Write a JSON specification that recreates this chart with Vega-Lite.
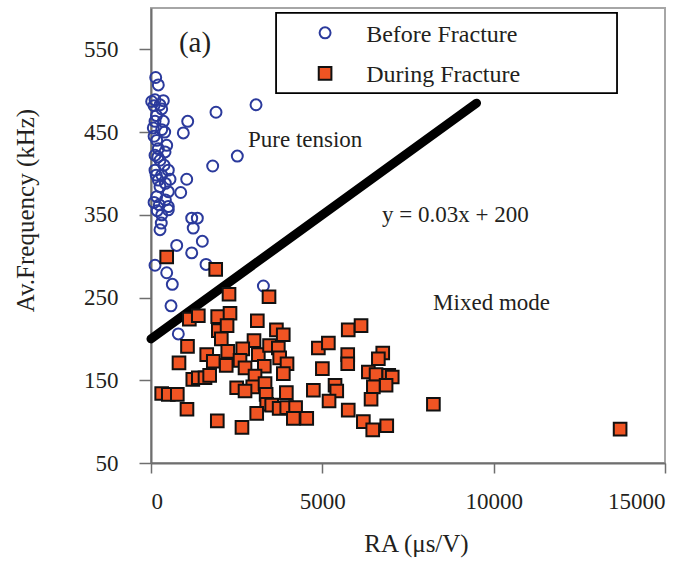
{
  "$schema": "https://vega.github.io/schema/vega-lite/v6.json",
  "width": 514,
  "height": 455,
  "autosize": {"type": "none"},
  "padding": {"left": 151, "top": 8, "right": 34, "bottom": 104},
  "background": "white",
  "config": {
    "view": {"stroke": "#a6a6a6", "strokeWidth": 2},
    "font": "Liberation Serif",
    "axis": {
      "grid": false,
      "domainColor": "#6e6e6e",
      "domainWidth": 2,
      "tickColor": "#6e6e6e",
      "tickWidth": 1.5,
      "labelFont": "Liberation Serif",
      "labelFontSize": 23,
      "labelColor": "#231f20",
      "titleFont": "Liberation Serif",
      "titleFontSize": 25,
      "titleFontWeight": "normal",
      "titleColor": "#231f20"
    }
  },
  "datasets": {
    "events": [
      {"phase": "Before Fracture", "ra": 137, "freq": 516},
      {"phase": "Before Fracture", "ra": 213, "freq": 507},
      {"phase": "Before Fracture", "ra": 117, "freq": 489},
      {"phase": "Before Fracture", "ra": 360, "freq": 488},
      {"phase": "Before Fracture", "ra": 263, "freq": 483},
      {"phase": "Before Fracture", "ra": 20, "freq": 487},
      {"phase": "Before Fracture", "ra": 88, "freq": 482},
      {"phase": "Before Fracture", "ra": 312, "freq": 478},
      {"phase": "Before Fracture", "ra": 160, "freq": 470},
      {"phase": "Before Fracture", "ra": 1897, "freq": 474},
      {"phase": "Before Fracture", "ra": 3065, "freq": 483},
      {"phase": "Before Fracture", "ra": 1071, "freq": 463},
      {"phase": "Before Fracture", "ra": 943, "freq": 449},
      {"phase": "Before Fracture", "ra": 117, "freq": 463},
      {"phase": "Before Fracture", "ra": 360, "freq": 463},
      {"phase": "Before Fracture", "ra": 67, "freq": 455},
      {"phase": "Before Fracture", "ra": 312, "freq": 453},
      {"phase": "Before Fracture", "ra": 400, "freq": 450},
      {"phase": "Before Fracture", "ra": 90, "freq": 445},
      {"phase": "Before Fracture", "ra": 166, "freq": 440},
      {"phase": "Before Fracture", "ra": 458, "freq": 434},
      {"phase": "Before Fracture", "ra": 213, "freq": 430},
      {"phase": "Before Fracture", "ra": 2519, "freq": 421},
      {"phase": "Before Fracture", "ra": 117, "freq": 422},
      {"phase": "Before Fracture", "ra": 409, "freq": 426},
      {"phase": "Before Fracture", "ra": 200, "freq": 420},
      {"phase": "Before Fracture", "ra": 380, "freq": 410},
      {"phase": "Before Fracture", "ra": 1800, "freq": 409},
      {"phase": "Before Fracture", "ra": 263, "freq": 416},
      {"phase": "Before Fracture", "ra": 117, "freq": 404},
      {"phase": "Before Fracture", "ra": 505, "freq": 404},
      {"phase": "Before Fracture", "ra": 150, "freq": 398},
      {"phase": "Before Fracture", "ra": 312, "freq": 398},
      {"phase": "Before Fracture", "ra": 1042, "freq": 393},
      {"phase": "Before Fracture", "ra": 555, "freq": 393},
      {"phase": "Before Fracture", "ra": 213, "freq": 392},
      {"phase": "Before Fracture", "ra": 420, "freq": 388},
      {"phase": "Before Fracture", "ra": 263, "freq": 384},
      {"phase": "Before Fracture", "ra": 867, "freq": 377},
      {"phase": "Before Fracture", "ra": 505, "freq": 378},
      {"phase": "Before Fracture", "ra": 166, "freq": 372},
      {"phase": "Before Fracture", "ra": 420, "freq": 368},
      {"phase": "Before Fracture", "ra": 90, "freq": 365},
      {"phase": "Before Fracture", "ra": 242, "freq": 362},
      {"phase": "Before Fracture", "ra": 505, "freq": 360},
      {"phase": "Before Fracture", "ra": 180, "freq": 355},
      {"phase": "Before Fracture", "ra": 505, "freq": 356},
      {"phase": "Before Fracture", "ra": 312, "freq": 350},
      {"phase": "Before Fracture", "ra": 1188, "freq": 346},
      {"phase": "Before Fracture", "ra": 1352, "freq": 346},
      {"phase": "Before Fracture", "ra": 300, "freq": 340},
      {"phase": "Before Fracture", "ra": 1232, "freq": 334},
      {"phase": "Before Fracture", "ra": 263, "freq": 332},
      {"phase": "Before Fracture", "ra": 750, "freq": 313},
      {"phase": "Before Fracture", "ra": 1498, "freq": 318},
      {"phase": "Before Fracture", "ra": 1188, "freq": 304},
      {"phase": "Before Fracture", "ra": 117, "freq": 289},
      {"phase": "Before Fracture", "ra": 458, "freq": 280},
      {"phase": "Before Fracture", "ra": 1606, "freq": 290},
      {"phase": "Before Fracture", "ra": 622, "freq": 266},
      {"phase": "Before Fracture", "ra": 3280, "freq": 264},
      {"phase": "Before Fracture", "ra": 584, "freq": 240},
      {"phase": "Before Fracture", "ra": 797, "freq": 206},
      {"phase": "During Fracture", "ra": 458, "freq": 299},
      {"phase": "During Fracture", "ra": 1888, "freq": 284},
      {"phase": "During Fracture", "ra": 2277, "freq": 254},
      {"phase": "During Fracture", "ra": 3444, "freq": 251},
      {"phase": "During Fracture", "ra": 1119, "freq": 224},
      {"phase": "During Fracture", "ra": 1381, "freq": 228},
      {"phase": "During Fracture", "ra": 1946, "freq": 227},
      {"phase": "During Fracture", "ra": 2306, "freq": 231},
      {"phase": "During Fracture", "ra": 3103, "freq": 222},
      {"phase": "During Fracture", "ra": 1965, "freq": 210},
      {"phase": "During Fracture", "ra": 2220, "freq": 216},
      {"phase": "During Fracture", "ra": 2052, "freq": 200},
      {"phase": "During Fracture", "ra": 3660, "freq": 211},
      {"phase": "During Fracture", "ra": 3860, "freq": 205},
      {"phase": "During Fracture", "ra": 1065, "freq": 191},
      {"phase": "During Fracture", "ra": 3006, "freq": 198},
      {"phase": "During Fracture", "ra": 2240, "freq": 185},
      {"phase": "During Fracture", "ra": 1626, "freq": 181},
      {"phase": "During Fracture", "ra": 817, "freq": 171},
      {"phase": "During Fracture", "ra": 1818, "freq": 173},
      {"phase": "During Fracture", "ra": 2195, "freq": 168},
      {"phase": "During Fracture", "ra": 2677, "freq": 188},
      {"phase": "During Fracture", "ra": 2598, "freq": 174},
      {"phase": "During Fracture", "ra": 2744, "freq": 165},
      {"phase": "During Fracture", "ra": 3132, "freq": 181},
      {"phase": "During Fracture", "ra": 3460, "freq": 192},
      {"phase": "During Fracture", "ra": 3307, "freq": 167},
      {"phase": "During Fracture", "ra": 3716, "freq": 189},
      {"phase": "During Fracture", "ra": 3755, "freq": 177},
      {"phase": "During Fracture", "ra": 3970, "freq": 170},
      {"phase": "During Fracture", "ra": 3862, "freq": 158},
      {"phase": "During Fracture", "ra": 1220, "freq": 151},
      {"phase": "During Fracture", "ra": 1381, "freq": 153},
      {"phase": "During Fracture", "ra": 1576, "freq": 153},
      {"phase": "During Fracture", "ra": 1712, "freq": 156},
      {"phase": "During Fracture", "ra": 3036, "freq": 155},
      {"phase": "During Fracture", "ra": 2500, "freq": 141},
      {"phase": "During Fracture", "ra": 2970, "freq": 142},
      {"phase": "During Fracture", "ra": 3328, "freq": 146},
      {"phase": "During Fracture", "ra": 2744, "freq": 137},
      {"phase": "During Fracture", "ra": 3950, "freq": 135},
      {"phase": "During Fracture", "ra": 312, "freq": 134},
      {"phase": "During Fracture", "ra": 505, "freq": 133},
      {"phase": "During Fracture", "ra": 768, "freq": 133},
      {"phase": "During Fracture", "ra": 3360, "freq": 133},
      {"phase": "During Fracture", "ra": 3376, "freq": 121},
      {"phase": "During Fracture", "ra": 3522, "freq": 120},
      {"phase": "During Fracture", "ra": 3740, "freq": 116},
      {"phase": "During Fracture", "ra": 3961, "freq": 117},
      {"phase": "During Fracture", "ra": 4220, "freq": 117},
      {"phase": "During Fracture", "ra": 1050, "freq": 115},
      {"phase": "During Fracture", "ra": 3085, "freq": 110},
      {"phase": "During Fracture", "ra": 4154, "freq": 104},
      {"phase": "During Fracture", "ra": 4545, "freq": 104},
      {"phase": "During Fracture", "ra": 1935, "freq": 101},
      {"phase": "During Fracture", "ra": 2655, "freq": 93},
      {"phase": "During Fracture", "ra": 4884, "freq": 189},
      {"phase": "During Fracture", "ra": 5176, "freq": 195},
      {"phase": "During Fracture", "ra": 5001, "freq": 164},
      {"phase": "During Fracture", "ra": 5756, "freq": 211},
      {"phase": "During Fracture", "ra": 6130, "freq": 216},
      {"phase": "During Fracture", "ra": 5741, "freq": 181},
      {"phase": "During Fracture", "ra": 5741, "freq": 170},
      {"phase": "During Fracture", "ra": 6763, "freq": 183},
      {"phase": "During Fracture", "ra": 6635, "freq": 176},
      {"phase": "During Fracture", "ra": 6343, "freq": 160},
      {"phase": "During Fracture", "ra": 6568, "freq": 157},
      {"phase": "During Fracture", "ra": 6938, "freq": 156},
      {"phase": "During Fracture", "ra": 7040, "freq": 154},
      {"phase": "During Fracture", "ra": 6860, "freq": 144},
      {"phase": "During Fracture", "ra": 6489, "freq": 142},
      {"phase": "During Fracture", "ra": 6422, "freq": 127},
      {"phase": "During Fracture", "ra": 4738, "freq": 138},
      {"phase": "During Fracture", "ra": 5371, "freq": 144},
      {"phase": "During Fracture", "ra": 5421, "freq": 137},
      {"phase": "During Fracture", "ra": 5196, "freq": 125},
      {"phase": "During Fracture", "ra": 5756, "freq": 114},
      {"phase": "During Fracture", "ra": 6197, "freq": 100},
      {"phase": "During Fracture", "ra": 6471, "freq": 90},
      {"phase": "During Fracture", "ra": 6880, "freq": 95},
      {"phase": "During Fracture", "ra": 8241, "freq": 121},
      {"phase": "During Fracture", "ra": 13690, "freq": 91}
    ],
    "boundary": [
      {"ra": 0, "freq": 200},
      {"ra": 9500, "freq": 485}
    ],
    "notes": [
      {"ra": 1284, "freq": 558, "text": "(a)", "kind": "panel"},
      {"ra": 2831, "freq": 440, "text": "Pure tension", "kind": "region"},
      {"ra": 6743, "freq": 350, "text": "y = 0.03x + 200", "kind": "region"},
      {"ra": 8232, "freq": 243, "text": "Mixed mode", "kind": "region"}
    ],
    "key": [
      {"phase": "Before Fracture"},
      {"phase": "During Fracture"}
    ]
  },
  "layer": [
    {
      "data": {"name": "boundary"},
      "mark": {"type": "line", "color": "black", "strokeWidth": 9, "strokeCap": "round"},
      "encoding": {
        "x": {"field": "ra", "type": "quantitative"},
        "y": {"field": "freq", "type": "quantitative"}
      }
    },
    {
      "data": {"name": "events"},
      "mark": {"type": "point", "filled": false, "strokeWidth": 2, "opacity": 1},
      "encoding": {
        "x": {
          "field": "ra",
          "type": "quantitative",
          "scale": {"domain": [0, 15000], "nice": false},
          "axis": {
            "title": "RA (μs/V)",
            "values": [0, 5000, 10000, 15000],
            "format": "d",
            "tickSize": 10,
            "labelPadding": 17,
            "titleX": 265,
            "titleY": 80,
            "titleBaseline": "middle"
          }
        },
        "y": {
          "field": "freq",
          "type": "quantitative",
          "scale": {"domain": [50, 600], "nice": false, "zero": false},
          "axis": {
            "title": "Av.Frequency (kHz)",
            "values": [50, 150, 250, 350, 450, 550],
            "format": "d",
            "tickSize": 12,
            "labelPadding": 21,
            "titleX": -126,
            "titleY": 202,
            "titleAngle": -90,
            "titleBaseline": "middle",
            "titleAlign": "center"
          }
        },
        "shape": {
          "field": "phase",
          "type": "nominal",
          "scale": {"domain": ["Before Fracture", "During Fracture"], "range": ["circle", "square"]},
          "legend": null
        },
        "fill": {
          "field": "phase",
          "type": "nominal",
          "scale": {"domain": ["Before Fracture", "During Fracture"], "range": ["rgba(255,255,255,0)", "#f05423"]},
          "legend": null
        },
        "stroke": {
          "field": "phase",
          "type": "nominal",
          "scale": {"domain": ["Before Fracture", "During Fracture"], "range": ["#2b3a9c", "#111111"]},
          "legend": null
        },
        "size": {
          "field": "phase",
          "type": "nominal",
          "scale": {"domain": ["Before Fracture", "During Fracture"], "range": [120, 160]},
          "legend": null
        }
      }
    },
    {
      "data": {"name": "notes"},
      "transform": [{"filter": "datum.kind === 'panel'"}],
      "mark": {"type": "text", "font": "Liberation Serif", "fontSize": 29, "color": "#231f20", "align": "center", "baseline": "middle"},
      "encoding": {
        "x": {"field": "ra", "type": "quantitative"},
        "y": {"field": "freq", "type": "quantitative"},
        "text": {"field": "text"}
      }
    },
    {
      "data": {"name": "notes"},
      "transform": [{"filter": "datum.kind === 'region'"}],
      "mark": {"type": "text", "font": "Liberation Serif", "fontSize": 23, "color": "#231f20", "align": "left", "baseline": "middle"},
      "encoding": {
        "x": {"field": "ra", "type": "quantitative"},
        "y": {"field": "freq", "type": "quantitative"},
        "text": {"field": "text"}
      }
    },
    {
      "description": "Key frame in the upper right of the plot",
      "data": {"name": "key"},
      "transform": [{"filter": "datum.phase === 'Before Fracture'"}],
      "mark": {"type": "rect", "fill": "white", "stroke": "black", "strokeWidth": 1.8},
      "encoding": {
        "x": {"datum": 3650, "type": "quantitative"},
        "x2": {"datum": 13600},
        "y": {"datum": 594, "type": "quantitative"},
        "y2": {"datum": 497}
      }
    },
    {
      "data": {"name": "key"},
      "transform": [{"filter": "datum.phase === 'Before Fracture'"}],
      "mark": {"type": "point", "shape": "circle", "filled": false, "stroke": "#2b3a9c", "strokeWidth": 2, "size": 120, "opacity": 1},
      "encoding": {
        "x": {"datum": 5080, "type": "quantitative"},
        "y": {"datum": 570, "type": "quantitative"}
      }
    },
    {
      "data": {"name": "key"},
      "transform": [{"filter": "datum.phase === 'During Fracture'"}],
      "mark": {"type": "point", "shape": "square", "filled": true, "fill": "#f05423", "stroke": "#111111", "strokeWidth": 2, "size": 160, "opacity": 1},
      "encoding": {
        "x": {"datum": 5080, "type": "quantitative"},
        "y": {"datum": 521, "type": "quantitative"}
      }
    },
    {
      "data": {"name": "key"},
      "transform": [{"filter": "datum.phase === 'Before Fracture'"}],
      "mark": {"type": "text", "font": "Liberation Serif", "fontSize": 24, "color": "#231f20", "align": "left", "baseline": "middle"},
      "encoding": {
        "x": {"datum": 6280, "type": "quantitative"},
        "y": {"datum": 567, "type": "quantitative"},
        "text": {"field": "phase"}
      }
    },
    {
      "data": {"name": "key"},
      "transform": [{"filter": "datum.phase === 'During Fracture'"}],
      "mark": {"type": "text", "font": "Liberation Serif", "fontSize": 24, "color": "#231f20", "align": "left", "baseline": "middle"},
      "encoding": {
        "x": {"datum": 6280, "type": "quantitative"},
        "y": {"datum": 519, "type": "quantitative"},
        "text": {"field": "phase"}
      }
    }
  ]
}
